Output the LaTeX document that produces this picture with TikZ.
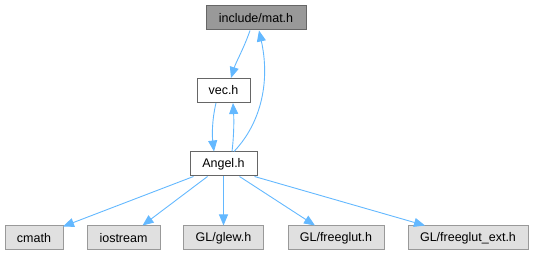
\documentclass[tikz,border=0pt]{standalone}
\usepackage{fontspec}
\setmainfont{Liberation Sans}
\usetikzlibrary{arrows.meta}
\definecolor{edgeblue}{HTML}{63B8FF}
\definecolor{curfill}{HTML}{999999}
\definecolor{curline}{HTML}{666666}
\definecolor{extfill}{HTML}{E0E0E0}
\definecolor{extline}{HTML}{999999}
\tikzset{
  x=1pt, y=-1pt,
  filebox/.style={draw, line width=1pt, inner sep=0pt, minimum height=24pt,
    font=\fontsize{12.5}{14}\selectfont, text=black},
  current/.style={filebox, fill=curfill, draw=curline},
  local/.style={filebox, fill=white, draw=curline},
  external/.style={filebox, fill=extfill, draw=extline},
  dep/.style={draw=edgeblue, line width=0.9pt,
    -{Triangle[length=11pt,width=9pt,fill=edgeblue]}},
}
\begin{document}
\begin{tikzpicture}
\useasboundingbox (0,0) rectangle (535,256);
% header nodes
\node[current, minimum width=100pt] (mat) at (256,18) {include/mat.h};
\node[local, minimum width=53pt] (vec) at (223.5,90.5) {vec.h};
\node[local, minimum width=67pt] (angel) at (223.5,164) {Angel.h};
% included files
\node[external, minimum width=58pt] (cmath) at (34,238) {cmath};
\node[external, minimum width=73pt] (iostream) at (123.5,238) {iostream};
\node[external, minimum width=80pt] (glew) at (223.5,238) {GL/glew.h};
\node[external, minimum width=96pt] (freeglut) at (336,238) {GL/freeglut.h};
\node[external, minimum width=120pt] (freeglutext) at (468,238) {GL/freeglut\_ext.h};
% include relations
\draw[dep] ([xshift=-6pt]mat.south) .. controls (244,48) and (236,62) .. ([xshift=7.5pt]vec.north);
\draw[dep] ([xshift=10.5pt]angel.north) .. controls (262,122) and (270,80) .. ([xshift=3pt]mat.south);
\draw[dep] ([xshift=-7.5pt]vec.south) .. controls (212,120) and (212,135) .. ([xshift=-9.5pt]angel.north);
\draw[dep] ([xshift=8.5pt]angel.north) .. controls (234,135) and (234,120) .. ([xshift=9.5pt]vec.south);
\draw[dep] ([xshift=-30pt]angel.south) -- ([xshift=29pt,yshift=-1pt]cmath.north);
\draw[dep] ([xshift=-16pt]angel.south) -- ([xshift=19pt]iostream.north);
\draw[dep] (angel.south) -- (glew.north);
\draw[dep] ([xshift=16pt]angel.south) -- ([xshift=-21pt]freeglut.north);
\draw[dep] ([xshift=31pt]angel.south) -- ([xshift=-43pt]freeglutext.north);
\end{tikzpicture}
\end{document}
